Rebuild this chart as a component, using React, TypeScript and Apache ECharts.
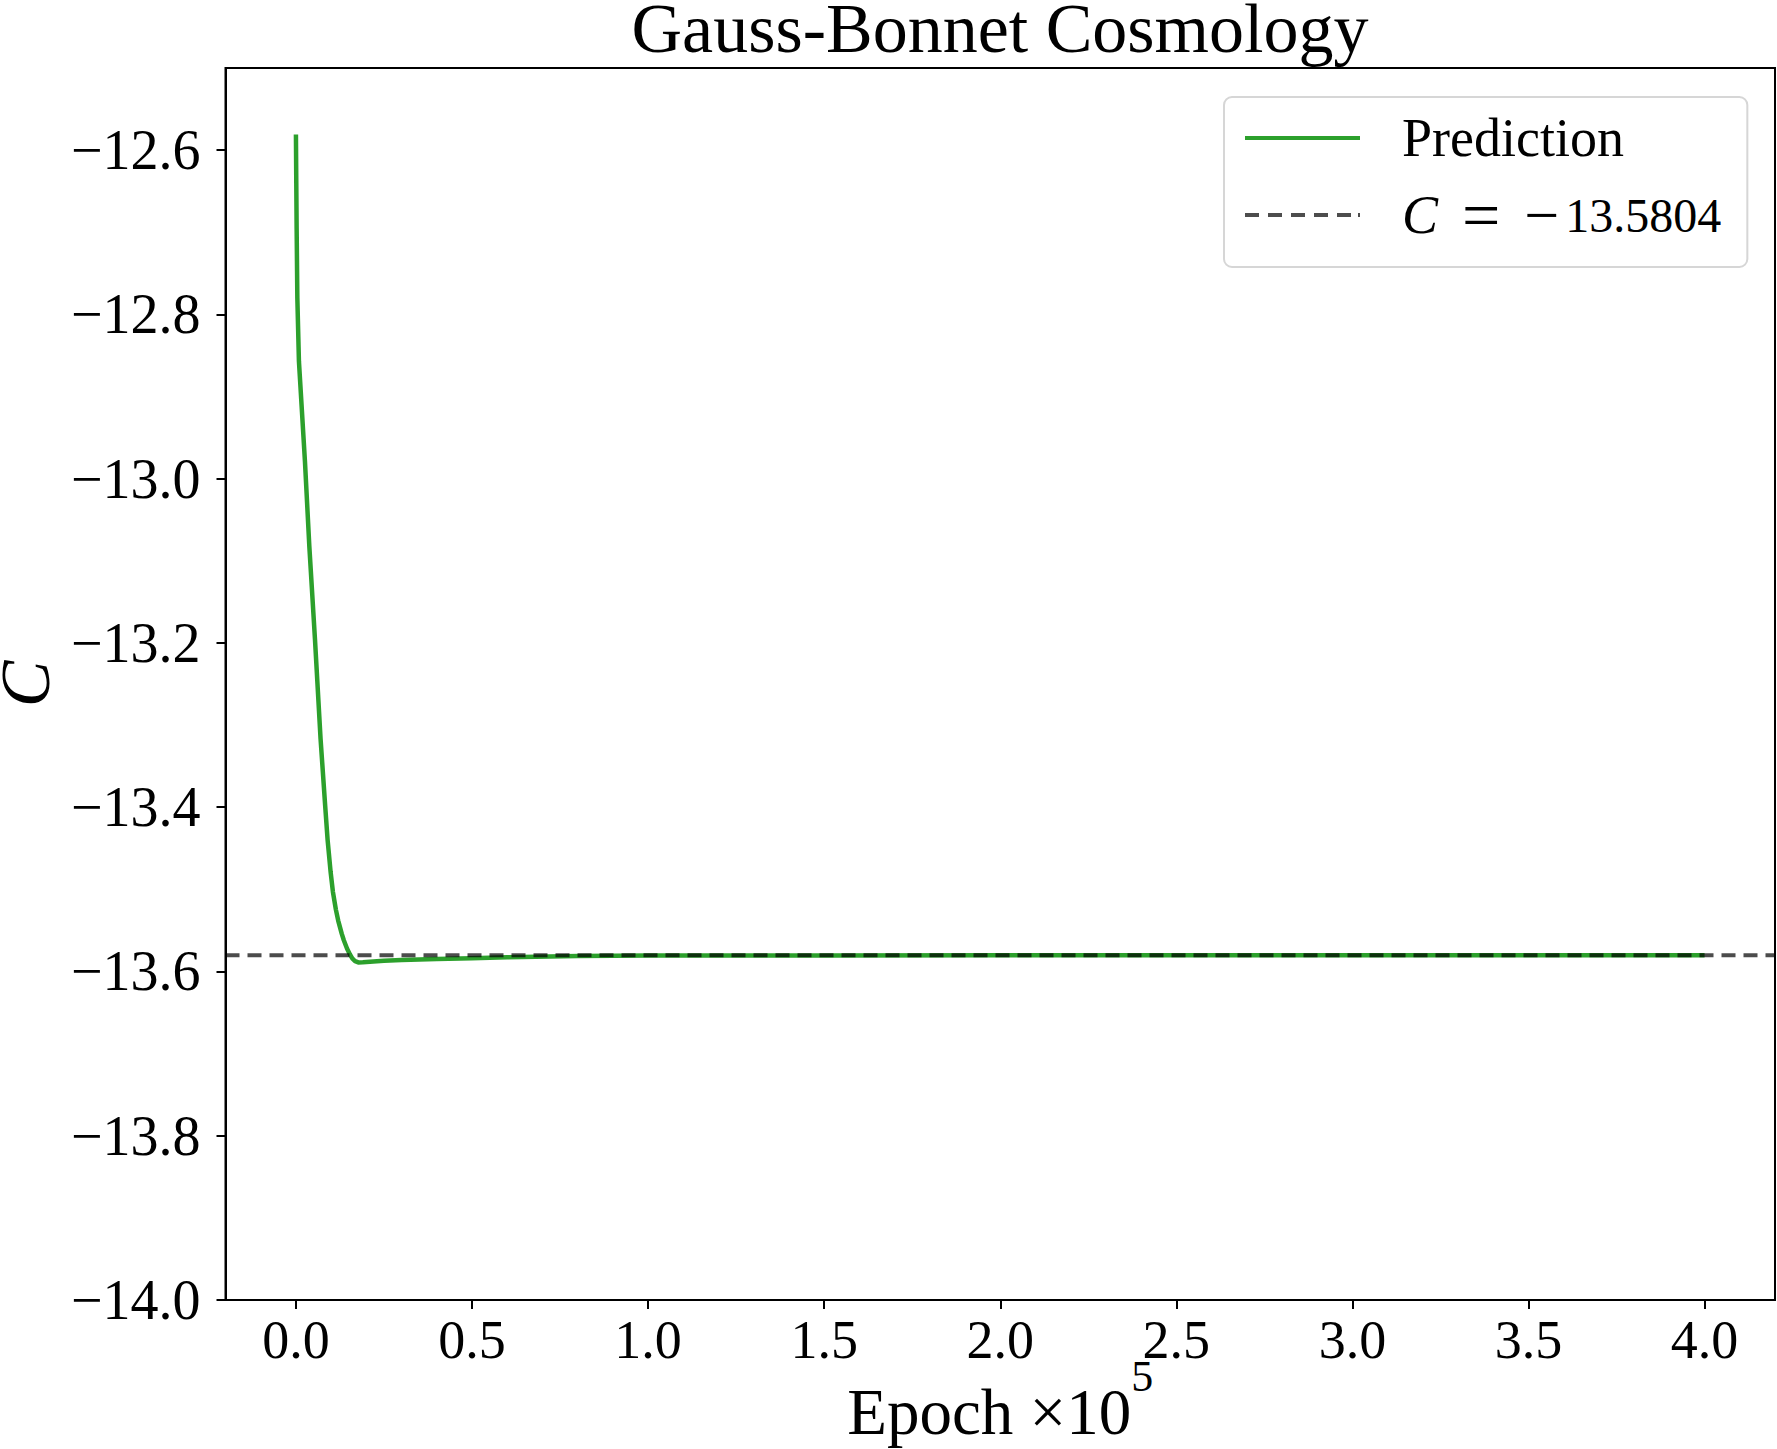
import React, { useEffect, useRef } from 'react';
import * as echarts from 'echarts';

// Epoch in units of 1e5
const epochs = [0, 0.001, 0.002, 0.004, 0.0085, 0.0256, 0.038, 0.054, 0.07, 0.083, 0.09, 0.0985, 0.105, 0.1136, 0.12, 0.13, 0.136, 0.145, 0.153, 0.16, 0.168, 0.177, 0.19, 0.21, 0.25, 0.3, 0.4, 0.5, 0.6, 0.8, 1.0, 1.5, 2.0, 3.0, 4.0];
const predicted = [-12.581, -12.64, -12.695, -12.78, -12.857, -12.979, -13.082, -13.195, -13.317, -13.398, -13.44, -13.479, -13.503, -13.525, -13.538, -13.554, -13.562, -13.572, -13.579, -13.584, -13.5875, -13.589, -13.5888, -13.5882, -13.587, -13.586, -13.5848, -13.584, -13.5827, -13.5813, -13.5807, -13.5805, -13.5804, -13.5804, -13.5804];
const trueC = -13.5804;
const xRange = [-0.2, 4.2];
const yRange = [-14.0, -12.5];
const xTicks = [0, 0.5, 1.0, 1.5, 2.0, 2.5, 3.0, 3.5, 4.0];
const yTicks = [-14.0, -13.8, -13.6, -13.4, -13.2, -13.0, -12.8, -12.6];

const FONT = "'Liberation Serif', 'DejaVu Serif', serif";
const MINUS = '\u2212';
const fmtNum = (v: number, d: number) => (v < 0 ? MINUS : '') + Math.abs(v).toFixed(d);

const SOLID_ICON = 'path://M0,0H115V4H0Z';
const DASH_ICON = 'path://M0,0H14V4H0Z M23,0H37V4H23Z M46,0H60V4H46Z M69,0H83V4H69Z M92,0H106V4H92Z M113,0H115V4H113Z';

export default function App() {
  const ref = useRef<HTMLDivElement>(null);
  useEffect(() => {
    document.body.style.margin = '0';
    if (!ref.current) return;
    const chart = echarts.init(ref.current, undefined, { renderer: 'svg' });
    const predName = 'Prediction';
    const refName = 'C = ' + fmtNum(trueC, 4);
    const refLegend =
      '{i|C}{e|=}' + (trueC < 0 ? '{m|' + MINUS + '}' : '') + '{n|' + Math.abs(trueC).toFixed(4) + '}';
    chart.setOption({
      animation: false,
      backgroundColor: '#ffffff',
      title: {
        text: 'Gauss-Bonnet Cosmology',
        left: 1000,
        top: 0,
        padding: 0,
        textAlign: 'center',
        textStyle: { fontFamily: FONT, fontSize: 70, lineHeight: 56, fontWeight: 'normal', color: '#000' },
      },
      legend: {
        orient: 'vertical',
        left: 1224,
        top: 97,
        padding: [11, 26, 18, 21],
        itemWidth: 115,
        itemHeight: 4,
        itemGap: 13,
        backgroundColor: 'rgba(255,255,255,0.8)',
        borderColor: '#d6d6d6',
        borderWidth: 2,
        borderRadius: 8,
        data: [
          { name: predName, icon: SOLID_ICON },
          { name: refName, icon: DASH_ICON },
        ],
        formatter: (name: string) => (name === predName ? name : refLegend),
        textStyle: {
          fontFamily: FONT,
          fontSize: 54,
          lineHeight: 60,
          color: '#000',
          padding: [0, 0, 0, 37],
          rich: {
            i: { fontFamily: FONT, fontSize: 54, fontStyle: 'italic', lineHeight: 60, color: '#000' },
            e: { fontFamily: FONT, fontSize: 68, lineHeight: 60, color: '#000', padding: [0, 24, 0, 24] },
            m: { fontFamily: FONT, fontSize: 62, lineHeight: 60, color: '#000', padding: [0, 6, 0, 0] },
            n: { fontFamily: FONT, fontSize: 48, lineHeight: 60, color: '#000' },
          },
        },
      },
      grid: {
        left: 225.5,
        right: 2,
        top: 68,
        bottom: 149,
        outerBoundsMode: 'none',
        containLabel: false,
        show: true,
        borderColor: '#000',
        borderWidth: 2,
        backgroundColor: 'transparent',
      },
      xAxis: {
        type: 'value',
        min: xRange[0],
        max: xRange[1],
        name: '{a|Epoch \u00d710}{s|5}',
        nameLocation: 'middle',
        nameGap: 54,
        nameMoveOverlap: false,
        nameTextStyle: {
          fontFamily: FONT,
          rich: {
            a: { fontFamily: FONT, fontSize: 65, lineHeight: 90, color: '#000', verticalAlign: 'bottom' },
            s: { fontFamily: FONT, fontSize: 44, lineHeight: 30, color: '#000', verticalAlign: 'top' },
          },
        },
        axisLine: { show: true, onZero: false, lineStyle: { color: '#000', width: 2 } },
        axisTick: { show: true, inside: false, length: 9, customValues: xTicks, lineStyle: { color: '#000', width: 2 } },
        axisLabel: {
          customValues: xTicks,
          margin: 13,
          fontFamily: FONT,
          fontSize: 54,
          color: '#000',
          formatter: (v: number) => fmtNum(v, 1),
        },
        splitLine: { show: false },
      },
      yAxis: {
        type: 'value',
        min: yRange[0],
        max: yRange[1],
        name: 'C',
        nameLocation: 'middle',
        nameRotate: 90,
        nameGap: 175,
        nameMoveOverlap: false,
        nameTextStyle: { fontFamily: FONT, fontSize: 70, lineHeight: 50, fontStyle: 'italic', color: '#000' },
        axisLine: { show: true, onZero: false, lineStyle: { color: '#000', width: 2 } },
        axisTick: { show: true, inside: false, length: 9, customValues: yTicks, lineStyle: { color: '#000', width: 2 } },
        axisLabel: {
          customValues: yTicks,
          margin: 25,
          fontFamily: FONT,
          fontSize: 56,
          color: '#000',
          formatter: (v: number) => fmtNum(v, 1),
        },
        splitLine: { show: false },
      },
      series: [
        {
          name: predName,
          type: 'line',
          showSymbol: false,
          symbol: 'none',
          data: epochs.map((e, i) => [e, predicted[i]]),
          lineStyle: { color: '#2ca02c', width: 4.5, join: 'round' },
          itemStyle: { color: '#2ca02c' },
          z: 2,
        },
        {
          name: refName,
          type: 'line',
          showSymbol: false,
          symbol: 'none',
          data: [
            [xRange[0], trueC],
            [xRange[1], trueC],
          ],
          lineStyle: { color: '#000', opacity: 0.7, width: 4, type: [14, 8] },
          itemStyle: { color: '#4d4d4d' },
          z: 3,
        },
      ],
    });
    return () => chart.dispose();
  }, []);
  return <div ref={ref} style={{ width: 1777, height: 1449 }} />;
}
